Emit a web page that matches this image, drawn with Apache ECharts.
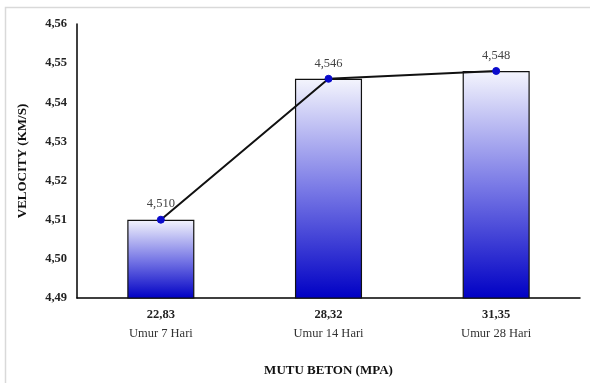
<!DOCTYPE html>
<html>
<head>
<meta charset="utf-8">
<script src="https://cdn.jsdelivr.net/npm/echarts@6/dist/echarts.min.js"></script>
<style>
  html, body { margin: 0; padding: 0; background: #fff; }
  #chart { width: 590px; height: 383px; }
</style>
</head>
<body>
<div id="chart"></div>
<script>
// Concrete age groups and their compressive strength (MPa)
const categories = ['Umur 7 Hari', 'Umur 14 Hari', 'Umur 28 Hari'];
const strengths = ['22,83', '28,32', '31,35'];
// Average ultrasonic pulse velocity (km/s)
const velocity = [4.510, 4.546, 4.548];

const serif = '"Liberation Serif", "Times New Roman", serif';
const comma = (v, d) => v.toFixed(d).replace('.', ',');

const chart = echarts.init(document.getElementById('chart'));
chart.setOption({
  animation: false,
  backgroundColor: '#fff',
  graphic: [{
    type: 'rect',
    shape: { x: 5.5, y: 7.5, width: 600, height: 400 },
    style: { fill: 'none', stroke: '#d9d9d9', lineWidth: 1.5 },
    z: -1
  }],
  grid: { left: 77, right: 10, top: 24, bottom: 85, outerBoundsMode: 'none' },
  xAxis: {
    type: 'category',
    data: categories,
    axisLine: { lineStyle: { color: '#000', width: 1.5 } },
    axisTick: { show: false },
    axisLabel: {
      margin: 7,
      fontFamily: serif,
      formatter: (v, i) => '{a|' + strengths[i] + '}\n{b|' + v + '}',
      rich: {
        a: { fontFamily: serif, fontWeight: 'bold', fontSize: 12.5, color: '#222', lineHeight: 19 },
        b: { fontFamily: serif, fontSize: 12.5, color: '#333', lineHeight: 19 }
      }
    },
    name: 'MUTU BETON (MPA)',
    nameLocation: 'middle',
    nameGap: 66,
    nameTextStyle: { fontFamily: serif, fontWeight: 'bold', fontSize: 13, color: '#111' }
  },
  yAxis: {
    type: 'value',
    min: 4.49,
    max: 4.56,
    interval: 0.01,
    splitLine: { show: false },
    axisLine: { show: true, lineStyle: { color: '#000', width: 1.5 } },
    axisTick: { show: false },
    axisLabel: {
      margin: 10,
      fontFamily: serif,
      fontWeight: 'bold',
      fontSize: 12.5,
      color: '#222',
      formatter: v => comma(v, 2)
    },
    name: 'VELOCITY (KM/S)',
    nameLocation: 'middle',
    nameGap: 48,
    nameTextStyle: { fontFamily: serif, fontWeight: 'bold', fontSize: 13, color: '#111' }
  },
  series: [
    {
      type: 'bar',
      data: velocity,
      barWidth: '40%',
      itemStyle: {
        borderColor: '#111',
        borderWidth: 1.2,
        color: new echarts.graphic.LinearGradient(0, 0, 0, 1, [
          { offset: 0, color: '#f4f5fd' },
          { offset: 0.5, color: '#7a7ae6' },
          { offset: 1, color: '#0000c4' }
        ])
      }
    },
    {
      type: 'line',
      data: velocity,
      symbol: 'circle',
      symbolSize: 7,
      lineStyle: { color: '#111', width: 2 },
      itemStyle: { color: '#0a0acc', borderColor: '#0a0acc' },
      label: {
        show: true,
        position: 'top',
        distance: 5,
        fontFamily: serif,
        fontSize: 12.5,
        color: '#444',
        formatter: p => comma(p.value, 3)
      },
      z: 5
    }
  ]
});
</script>
</body>
</html>
